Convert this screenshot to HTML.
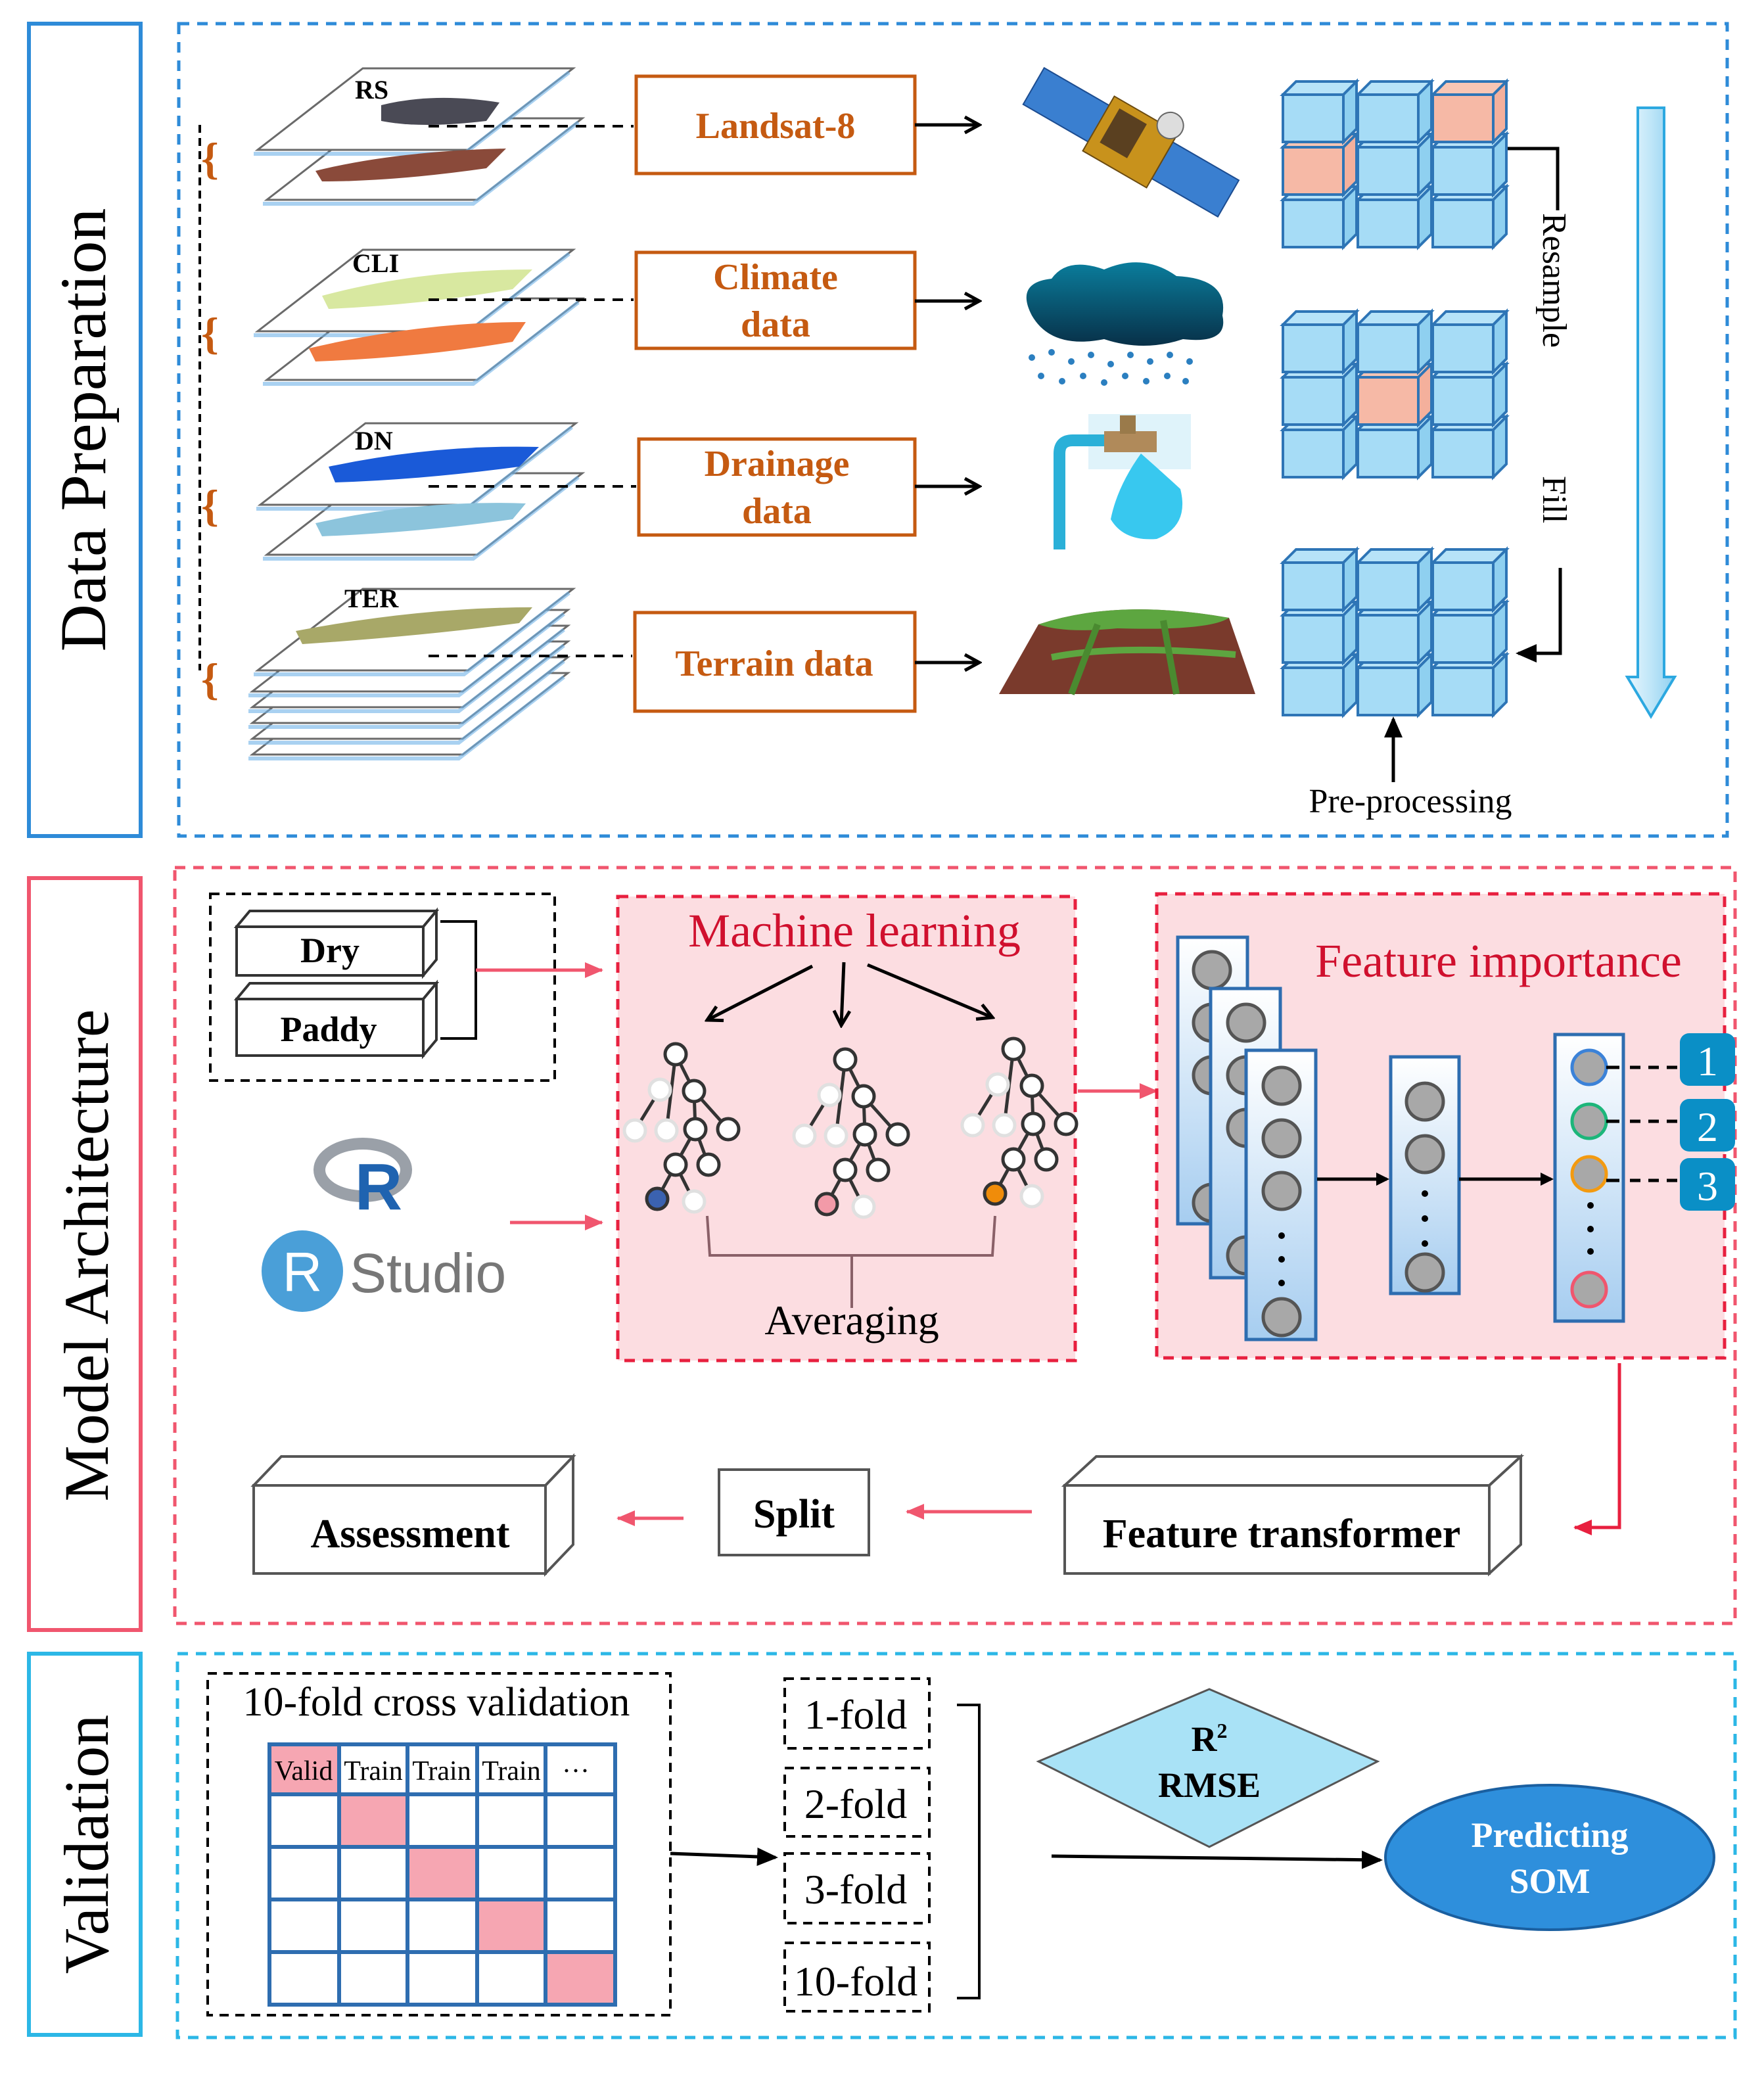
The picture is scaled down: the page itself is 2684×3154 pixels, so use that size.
<!DOCTYPE html>
<html><head><meta charset="utf-8"><style>
html,body{margin:0;padding:0;background:#fff;}
svg{display:block;}
text{font-family:"Liberation Serif",serif;}
</style></head><body>
<svg width="2684" height="3154" viewBox="0 0 1342 1577" xmlns="http://www.w3.org/2000/svg">
<defs>
<marker id="ak" markerWidth="10" markerHeight="10" refX="8" refY="5" orient="auto" markerUnits="userSpaceOnUse"><path d="M0,0 L10,5 L0,10 Z" fill="#000"/></marker>
<marker id="ao" markerWidth="14" markerHeight="14" refX="12" refY="7" orient="auto" markerUnits="userSpaceOnUse"><path d="M1,1 L12,7 L1,13" fill="none" stroke="#000" stroke-width="2.5"/></marker>
<marker id="ap" markerWidth="14" markerHeight="12" refX="13" refY="6" orient="auto" markerUnits="userSpaceOnUse"><path d="M0,0 L14,6 L0,12 Z" fill="#f0566e"/></marker>
<marker id="ar" markerWidth="14" markerHeight="12" refX="13" refY="6" orient="auto" markerUnits="userSpaceOnUse"><path d="M0,0 L14,6 L0,12 Z" fill="#e8203f"/></marker>
<marker id="ab" markerWidth="16" markerHeight="14" refX="14" refY="7" orient="auto" markerUnits="userSpaceOnUse"><path d="M0,0 L16,7 L0,14 Z" fill="#000"/></marker>
<linearGradient id="colg" x1="0" y1="0" x2="0" y2="1"><stop offset="0" stop-color="#ffffff"/><stop offset="1" stop-color="#a6cdf0"/></linearGradient>
<linearGradient id="bigarr" x1="0" y1="0" x2="1" y2="0"><stop offset="0" stop-color="#e8f6fd"/><stop offset="0.5" stop-color="#bfe6f8"/><stop offset="1" stop-color="#8fd0f0"/></linearGradient>
<linearGradient id="cloudg" x1="0" y1="0" x2="0" y2="1"><stop offset="0" stop-color="#0a7d9c"/><stop offset="1" stop-color="#083048"/></linearGradient>
<g id="layer"><path d="M80,0 L240,0 L160,62 L0,62 Z" fill="#fff" stroke="#6a6a6a" stroke-width="1.5"/><path d="M0,62 L160,62 L240,0" fill="none" stroke="#6fb3e8" stroke-width="3" opacity="0.6" transform="translate(-3,3)"/></g>
<g id="cube"><path d="M0,10 L10,0 L56,0 L46,10 Z" fill="#b7e3f8" stroke="#2e75b6" stroke-width="2"/><path d="M46,10 L56,0 L56,36 L46,46 Z" fill="#8fd0f0" stroke="#2e75b6" stroke-width="2"/><rect x="0" y="10" width="46" height="36" fill="#a6dcf6" stroke="#2e75b6" stroke-width="2"/></g>
<g id="cubep"><path d="M0,10 L10,0 L56,0 L46,10 Z" fill="#f9c6b4" stroke="#2e75b6" stroke-width="2"/><path d="M46,10 L56,0 L56,36 L46,46 Z" fill="#f4b09c" stroke="#2e75b6" stroke-width="2"/><rect x="0" y="10" width="46" height="36" fill="#f6b9a6" stroke="#2e75b6" stroke-width="2"/></g>
<g id="tree" stroke="#333" stroke-width="2.5" fill="#fff">
<line x1="0" y1="0" x2="14" y2="28"/><line x1="0" y1="0" x2="-7" y2="58"/><line x1="-12" y1="27" x2="-31" y2="58"/>
<line x1="14" y1="28" x2="15" y2="57"/><line x1="14" y1="28" x2="40" y2="57"/><line x1="15" y1="57" x2="0" y2="84"/><line x1="15" y1="57" x2="25" y2="84"/>
<line x1="0" y1="84" x2="-14" y2="110"/><line x1="0" y1="84" x2="14" y2="112"/>
<circle cx="0" cy="0" r="8"/><circle cx="-12" cy="27" r="8" stroke="#e0e0e0"/><circle cx="14" cy="28" r="8"/>
<circle cx="-31" cy="58" r="8" stroke="#e0e0e0"/><circle cx="-7" cy="58" r="8" stroke="#e0e0e0"/><circle cx="15" cy="57" r="8"/><circle cx="40" cy="57" r="8"/>
<circle cx="0" cy="84" r="8"/><circle cx="25" cy="84" r="8"/><circle cx="14" cy="112" r="8" stroke="#e0e0e0"/>
</g>
</defs>

<!-- Left labels -->
<rect x="22" y="18" width="85" height="618" fill="none" stroke="#2e8bd8" stroke-width="3"/>
<text transform="translate(80,327) rotate(-90)" text-anchor="middle" font-size="50">Data Preparation</text>
<rect x="22" y="668" width="85" height="572" fill="none" stroke="#f0566e" stroke-width="3"/>
<text transform="translate(82,955) rotate(-90)" text-anchor="middle" font-size="48">Model Architecture</text>
<rect x="22" y="1258" width="85" height="290" fill="none" stroke="#2cb7e6" stroke-width="3"/>
<text transform="translate(82,1403) rotate(-90)" text-anchor="middle" font-size="48">Validation</text>

<!-- Section dashed boxes -->
<rect x="136" y="18" width="1178" height="618" fill="none" stroke="#2e8bd8" stroke-width="2.5" stroke-dasharray="8,6"/>
<rect x="133" y="660" width="1187" height="575" fill="none" stroke="#f0566e" stroke-width="2.5" stroke-dasharray="8,6"/>
<rect x="135" y="1258" width="1185" height="292" fill="none" stroke="#2cb7e6" stroke-width="2.5" stroke-dasharray="8,6"/>

<!-- Data preparation: left bracket -->
<line x1="152" y1="95" x2="152" y2="510" stroke="#000" stroke-width="2" stroke-dasharray="6,4"/>
<g fill="#c55a11" font-size="34" font-weight="bold"><text x="153" y="132">{</text><text x="153" y="265">{</text><text x="153" y="396">{</text><text x="153" y="528">{</text></g>

<!-- Layers -->
<use href="#layer" transform="translate(203,90)"/>
<use href="#layer" transform="translate(196,52)"/>
<path d="M290,80 Q330,70 380,78 L370,92 Q320,98 290,92 Z" fill="#4a4a55"/>
<path d="M240,130 Q300,115 385,113 L370,128 Q300,138 245,138 Z" fill="#8a4a3a"/>
<text x="270" y="75" font-size="20" font-weight="bold">RS</text>
<use href="#layer" transform="translate(203,227)"/>
<use href="#layer" transform="translate(196,190)"/>
<path d="M245,225 Q320,205 405,205 L390,220 Q320,232 250,235 Z" fill="#d8e8a0"/>
<path d="M235,265 Q320,245 400,245 L390,260 Q320,272 240,275 Z" fill="#f07a40"/>
<text x="268" y="207" font-size="20" font-weight="bold">CLI</text>
<use href="#layer" transform="translate(203,360)"/>
<use href="#layer" transform="translate(198,322)"/>
<path d="M250,355 Q330,338 410,340 L395,355 Q320,365 255,367 Z" fill="#1a5ad8"/>
<path d="M240,398 Q320,380 400,383 L390,395 Q320,405 245,408 Z" fill="#8cc4dc"/>
<text x="270" y="342" font-size="20" font-weight="bold">DN</text>
<use href="#layer" transform="translate(192,512)"/>
<use href="#layer" transform="translate(192,500)"/>
<use href="#layer" transform="translate(192,488)"/>
<use href="#layer" transform="translate(192,476)"/>
<use href="#layer" transform="translate(192,464)"/>
<use href="#layer" transform="translate(196,448)"/>
<path d="M225,480 Q320,462 405,462 L395,474 Q320,484 230,490 Z" fill="#a8a868"/>
<text x="262" y="462" font-size="20" font-weight="bold">TER</text>

<!-- dashed connectors -->
<g stroke="#000" stroke-width="2" stroke-dasharray="8,6">
<line x1="326" y1="96" x2="482" y2="96"/><line x1="326" y1="228" x2="482" y2="228"/>
<line x1="326" y1="370" x2="484" y2="370"/><line x1="326" y1="499" x2="481" y2="499"/>
</g>

<!-- orange boxes -->
<g fill="#fff" stroke="#c55a11" stroke-width="2.5">
<rect x="484" y="58" width="212" height="74"/><rect x="484" y="192" width="212" height="73"/>
<rect x="486" y="334" width="210" height="73"/><rect x="483" y="466" width="213" height="75"/>
</g>
<g fill="#c55a11" font-size="28" font-weight="bold" text-anchor="middle">
<text x="590" y="105">Landsat-8</text>
<text x="590" y="220">Climate</text><text x="590" y="256">data</text>
<text x="591" y="362">Drainage</text><text x="591" y="398">data</text>
<text x="589" y="514">Terrain data</text>
</g>
<g stroke="#000" stroke-width="2.5" marker-end="url(#ao)">
<line x1="696" y1="95" x2="745" y2="95"/><line x1="696" y1="229" x2="745" y2="229"/>
<line x1="696" y1="370" x2="745" y2="370"/><line x1="696" y1="504" x2="745" y2="504"/>
</g>

<!-- satellite -->
<g transform="translate(860,108) rotate(30)">
<rect x="-85" y="-16" width="58" height="32" fill="#3a7fd0" stroke="#1c4c90"/>
<rect x="28" y="-16" width="58" height="32" fill="#3a7fd0" stroke="#1c4c90"/>
<rect x="-28" y="-24" width="56" height="48" fill="#c8921c" stroke="#6a4a10"/>
<rect x="-20" y="-18" width="24" height="30" fill="#5a4020"/>
<circle cx="20" cy="-26" r="10" fill="#ddd" stroke="#666"/>
</g>
<!-- cloud -->
<path d="M785,240 Q772,215 800,212 Q812,195 840,205 Q870,192 895,210 Q935,212 930,240 Q935,262 900,258 Q870,268 840,258 Q800,266 785,240 Z" fill="url(#cloudg)"/>
<g fill="#2b7fc0">
<circle cx="785" cy="272" r="2.5"/><circle cx="800" cy="268" r="2.5"/><circle cx="815" cy="275" r="2.5"/><circle cx="830" cy="270" r="2.5"/><circle cx="845" cy="277" r="2.5"/><circle cx="860" cy="270" r="2.5"/><circle cx="875" cy="275" r="2.5"/><circle cx="890" cy="270" r="2.5"/><circle cx="905" cy="275" r="2.5"/>
<circle cx="792" cy="286" r="2.5"/><circle cx="808" cy="290" r="2.5"/><circle cx="824" cy="286" r="2.5"/><circle cx="840" cy="291" r="2.5"/><circle cx="856" cy="286" r="2.5"/><circle cx="872" cy="290" r="2.5"/><circle cx="888" cy="286" r="2.5"/><circle cx="902" cy="290" r="2.5"/>
</g>
<!-- tap -->
<rect x="828" y="315" width="78" height="42" fill="#dff3fa"/>
<path d="M806,418 L806,345 Q806,335 816,335 L845,335" fill="none" stroke="#2ab0d8" stroke-width="9"/>
<rect x="840" y="328" width="40" height="16" fill="#b08a5a"/><rect x="852" y="316" width="12" height="14" fill="#9a7a4a"/>
<path d="M868,345 Q850,370 845,395 Q855,412 880,410 Q905,400 898,372 Q885,360 868,345 Z" fill="#38c8ef"/>
<!-- terrain -->
<path d="M760,528 L790,475 Q850,455 935,470 L955,528 Z" fill="#7a3a2c"/>
<path d="M790,475 Q850,455 935,470 Q920,480 850,478 Q810,482 790,475 Z" fill="#5da640"/>
<path d="M800,500 Q850,490 940,498" stroke="#5da640" stroke-width="5" fill="none"/>
<path d="M835,475 L815,528 M885,472 L895,528" stroke="#4a8a30" stroke-width="5" fill="none"/>

<!-- cube grids -->
<g>
<use href="#cube" x="1090" y="142"/><use href="#cube" x="1033" y="142"/><use href="#cube" x="976" y="142"/>
<use href="#cube" x="1090" y="102"/><use href="#cube" x="1033" y="102"/><use href="#cubep" x="976" y="102"/>
<use href="#cubep" x="1090" y="62"/><use href="#cube" x="1033" y="62"/><use href="#cube" x="976" y="62"/>

<use href="#cube" x="1090" y="317"/><use href="#cube" x="1033" y="317"/><use href="#cube" x="976" y="317"/>
<use href="#cube" x="1090" y="277"/><use href="#cubep" x="1033" y="277"/><use href="#cube" x="976" y="277"/>
<use href="#cube" x="1090" y="237"/><use href="#cube" x="1033" y="237"/><use href="#cube" x="976" y="237"/>

<use href="#cube" x="1090" y="498"/><use href="#cube" x="1033" y="498"/><use href="#cube" x="976" y="498"/>
<use href="#cube" x="1090" y="458"/><use href="#cube" x="1033" y="458"/><use href="#cube" x="976" y="458"/>
<use href="#cube" x="1090" y="418"/><use href="#cube" x="1033" y="418"/><use href="#cube" x="976" y="418"/>
</g>
<path d="M1147,113 L1185,113 L1185,160" fill="none" stroke="#000" stroke-width="2.5"/>
<text transform="translate(1174,162) rotate(90)" font-size="26">Resample</text>
<text transform="translate(1174,362) rotate(90)" font-size="26">Fill</text>
<path d="M1187,432 L1187,497 L1155,497" fill="none" stroke="#000" stroke-width="2.5" marker-end="url(#ab)"/>
<line x1="1060" y1="595" x2="1060" y2="547" stroke="#000" stroke-width="2.5" marker-end="url(#ab)"/>
<text x="1073" y="618" font-size="26" text-anchor="middle">Pre-processing</text>
<!-- big down arrow -->
<path d="M1246,82 L1266,82 L1266,515 L1274,515 L1256,545 L1238,515 L1246,515 Z" fill="url(#bigarr)" stroke="#2ca8e0" stroke-width="2"/>

<!-- Model architecture -->
<rect x="160" y="680" width="262" height="142" fill="none" stroke="#000" stroke-width="2" stroke-dasharray="7,5"/>
<g fill="#fff" stroke="#333" stroke-width="2">
<path d="M180,705 L190,693 L332,693 L322,705 Z"/><path d="M322,705 L332,693 L332,730 L322,742 Z"/><rect x="180" y="705" width="142" height="37"/>
<path d="M180,760 L190,748 L332,748 L322,760 Z"/><path d="M322,760 L332,748 L332,791 L322,803 Z"/><rect x="180" y="760" width="142" height="43"/>
</g>
<text x="251" y="732" font-size="27" font-weight="bold" text-anchor="middle">Dry</text>
<text x="250" y="792" font-size="27" font-weight="bold" text-anchor="middle">Paddy</text>
<path d="M335,701 L362,701 L362,790 L335,790" fill="none" stroke="#000" stroke-width="2"/>
<line x1="362" y1="738" x2="458" y2="738" stroke="#f0566e" stroke-width="2.5" marker-end="url(#ap)"/>
<!-- R logo -->
<ellipse cx="276" cy="890" rx="33" ry="20" fill="none" stroke="#9aa0a8" stroke-width="9"/>
<text x="288" y="920" font-family="Liberation Sans,sans-serif" font-size="50" font-weight="bold" fill="#1f63b0" text-anchor="middle" style="font-family:'Liberation Sans',sans-serif">R</text>
<circle cx="230" cy="967" r="31" fill="#4a9fd8"/>
<text x="230" y="982" font-size="42" fill="#fff" text-anchor="middle" style="font-family:'Liberation Sans',sans-serif">R</text>
<text x="266" y="983" font-size="42" fill="#777" style="font-family:'Liberation Sans',sans-serif">Studio</text>
<line x1="388" y1="930" x2="458" y2="930" stroke="#f0566e" stroke-width="2.5" marker-end="url(#ap)"/>

<!-- ML box -->
<rect x="470" y="682" width="348" height="353" fill="#fcdde1" stroke="#e8203f" stroke-width="2.5" stroke-dasharray="8,6"/>
<text x="650" y="720" font-size="36" fill="#d0102e" text-anchor="middle">Machine learning</text>
<g stroke="#000" stroke-width="2.5" marker-end="url(#ao)">
<line x1="618" y1="735" x2="538" y2="776"/><line x1="642" y1="732" x2="640" y2="780"/><line x1="660" y1="734" x2="755" y2="774"/>
</g>
<use href="#tree" transform="translate(514,802)"/>
<use href="#tree" transform="translate(643,806)"/>
<use href="#tree" transform="translate(771,798)"/>
<circle cx="500" cy="912" r="8" fill="#3b62b0" stroke="#333" stroke-width="2.5"/>
<circle cx="629" cy="916" r="8" fill="#f29aa8" stroke="#333" stroke-width="2.5"/>
<circle cx="757" cy="908" r="8" fill="#f08c0a" stroke="#333" stroke-width="2.5"/>
<path d="M538,925 L540,955 L755,955 L757,925 M648,955 L648,995" fill="none" stroke="#8a6068" stroke-width="2"/>
<text x="648" y="1015" font-size="32" text-anchor="middle">Averaging</text>
<line x1="820" y1="830" x2="880" y2="830" stroke="#f0566e" stroke-width="2.5" marker-end="url(#ap)"/>

<!-- Feature importance -->
<rect x="880" y="680" width="432" height="353" fill="#fcdde1" stroke="#e8203f" stroke-width="2.5" stroke-dasharray="8,6"/>
<text x="1140" y="743" font-size="36" fill="#d0102e" text-anchor="middle">Feature importance</text>
<g stroke="#2e6db0" stroke-width="2.5" fill="url(#colg)">
<rect x="896" y="713" width="53" height="218"/>
</g>
<g fill="#a8a8a8" stroke="#555" stroke-width="2.5"><circle cx="922" cy="738" r="14"/><circle cx="922" cy="778" r="14"/><circle cx="922" cy="818" r="14"/><circle cx="922" cy="915" r="14"/></g>
<rect x="921" y="752" width="53" height="220" fill="url(#colg)" stroke="#2e6db0" stroke-width="2.5"/>
<g fill="#a8a8a8" stroke="#555" stroke-width="2.5"><circle cx="948" cy="778" r="14"/><circle cx="948" cy="818" r="14"/><circle cx="948" cy="858" r="14"/><circle cx="948" cy="955" r="14"/></g>
<rect x="948" y="799" width="53" height="220" fill="url(#colg)" stroke="#2e6db0" stroke-width="2.5"/>
<g fill="#a8a8a8" stroke="#555" stroke-width="2.5"><circle cx="975" cy="826" r="14"/><circle cx="975" cy="866" r="14"/><circle cx="975" cy="906" r="14"/><circle cx="975" cy="1002" r="14"/></g>
<g fill="#000"><circle cx="975" cy="940" r="2.5"/><circle cx="975" cy="958" r="2.5"/><circle cx="975" cy="976" r="2.5"/></g>
<rect x="1058" y="804" width="52" height="180" fill="url(#colg)" stroke="#2e6db0" stroke-width="2.5"/>
<g fill="#a8a8a8" stroke="#555" stroke-width="2.5"><circle cx="1084" cy="838" r="14"/><circle cx="1084" cy="878" r="14"/><circle cx="1084" cy="968" r="14"/></g>
<g fill="#000"><circle cx="1084" cy="908" r="2.5"/><circle cx="1084" cy="927" r="2.5"/><circle cx="1084" cy="946" r="2.5"/></g>
<rect x="1183" y="787" width="52" height="218" fill="url(#colg)" stroke="#2e6db0" stroke-width="2.5"/>
<circle cx="1209" cy="812" r="13" fill="#a8a8a8" stroke="#3b82d8" stroke-width="2.5"/>
<circle cx="1209" cy="853" r="13" fill="#a8a8a8" stroke="#1cb67a" stroke-width="2.5"/>
<circle cx="1209" cy="893" r="13" fill="#a8a8a8" stroke="#f39a10" stroke-width="2.5"/>
<circle cx="1209" cy="981" r="13" fill="#a8a8a8" stroke="#f0566e" stroke-width="2.5"/>
<g fill="#000"><circle cx="1210" cy="917" r="2.5"/><circle cx="1210" cy="935" r="2.5"/><circle cx="1210" cy="952" r="2.5"/></g>
<g stroke="#000" stroke-width="2.5"><line x1="1002" y1="897" x2="1055" y2="897" marker-end="url(#ak)"/><line x1="1110" y1="897" x2="1180" y2="897" marker-end="url(#ak)"/></g>
<g stroke="#000" stroke-width="2.5"><line x1="1222" y1="812" x2="1232" y2="812"/><line x1="1222" y1="853" x2="1232" y2="853"/><line x1="1222" y1="898" x2="1232" y2="898"/></g>
<g stroke="#000" stroke-width="2.5" stroke-dasharray="8,6"><line x1="1240" y1="812" x2="1280" y2="812"/><line x1="1240" y1="853" x2="1280" y2="853"/><line x1="1240" y1="898" x2="1280" y2="898"/></g>
<g fill="#0a8fc6"><rect x="1278" y="786" width="42" height="40" rx="7"/><rect x="1278" y="836" width="42" height="40" rx="7"/><rect x="1278" y="881" width="42" height="40" rx="7"/></g>
<g fill="#fff" font-size="32" text-anchor="middle" style="font-family:'Liberation Sans',sans-serif"><text x="1299" y="818">1</text><text x="1299" y="868">2</text><text x="1299" y="913">3</text></g>

<!-- bottom row of model -->
<path d="M1232,1037 L1232,1162 L1198,1162" fill="none" stroke="#e8203f" stroke-width="2.5" marker-end="url(#ar)"/>
<g fill="#fff" stroke="#555" stroke-width="2">
<path d="M810,1130 L834,1108 L1157,1108 L1133,1130 Z"/><path d="M1133,1130 L1157,1108 L1157,1175 L1133,1197 Z"/><rect x="810" y="1130" width="323" height="67"/>
<path d="M193,1130 L214,1108 L436,1108 L415,1130 Z"/><path d="M415,1130 L436,1108 L436,1175 L415,1197 Z"/><rect x="193" y="1130" width="222" height="67"/>
</g>
<rect x="547" y="1118" width="114" height="65" fill="#fff" stroke="#555" stroke-width="2"/>
<g font-size="31" font-weight="bold" text-anchor="middle">
<text x="975" y="1177">Feature transformer</text>
<text x="312" y="1177">Assessment</text>
<text x="604" y="1162">Split</text>
</g>
<line x1="785" y1="1150" x2="690" y2="1150" stroke="#f0566e" stroke-width="2.5" marker-end="url(#ap)"/>
<line x1="520" y1="1155" x2="470" y2="1155" stroke="#f0566e" stroke-width="2.5" marker-end="url(#ap)"/>

<!-- Validation -->
<rect x="158" y="1273" width="352" height="260" fill="none" stroke="#000" stroke-width="2" stroke-dasharray="7,5"/>
<text x="332" y="1305" font-size="31" text-anchor="middle">10-fold cross validation</text>
<g fill="#f6a6b2">
<rect x="205" y="1327" width="53" height="38"/><rect x="258" y="1365" width="52" height="40"/><rect x="310" y="1405" width="53" height="40"/><rect x="363" y="1445" width="52" height="40"/><rect x="415" y="1485" width="53" height="40"/>
</g>
<g stroke="#2e6db0" stroke-width="3" fill="none">
<rect x="205" y="1327" width="263" height="198"/>
<line x1="258" y1="1327" x2="258" y2="1525"/><line x1="310" y1="1327" x2="310" y2="1525"/><line x1="363" y1="1327" x2="363" y2="1525"/><line x1="415" y1="1327" x2="415" y2="1525"/>
<line x1="205" y1="1365" x2="468" y2="1365"/><line x1="205" y1="1405" x2="468" y2="1405"/><line x1="205" y1="1445" x2="468" y2="1445"/><line x1="205" y1="1485" x2="468" y2="1485"/>
</g>
<g font-size="21" text-anchor="middle"><text x="231" y="1354">Valid</text><text x="284" y="1354">Train</text><text x="336" y="1354">Train</text><text x="389" y="1354">Train</text><text x="438" y="1354">···</text></g>
<line x1="510" y1="1410" x2="590" y2="1413" stroke="#000" stroke-width="2.5" marker-end="url(#ab)"/>
<g fill="none" stroke="#000" stroke-width="2" stroke-dasharray="7,5">
<rect x="597" y="1277" width="110" height="53"/><rect x="597" y="1345" width="110" height="52"/><rect x="597" y="1410" width="110" height="53"/><rect x="597" y="1478" width="110" height="52"/>
</g>
<g font-size="32" text-anchor="middle"><text x="651" y="1315">1-fold</text><text x="651" y="1383">2-fold</text><text x="651" y="1448">3-fold</text><text x="651" y="1518">10-fold</text></g>
<path d="M728,1297 L745,1297 L745,1520 L728,1520" fill="none" stroke="#000" stroke-width="2"/>
<path d="M920,1285 L1048,1340 L920,1405 L790,1340 Z" fill="#a9e2f6" stroke="#555" stroke-width="1.5"/>
<text x="920" y="1332" font-size="27" font-weight="bold" text-anchor="middle">R<tspan font-size="16" dy="-10">2</tspan></text>
<text x="920" y="1367" font-size="27" font-weight="bold" text-anchor="middle">RMSE</text>
<line x1="800" y1="1412" x2="1050" y2="1415" stroke="#000" stroke-width="2.5" marker-end="url(#ab)"/>
<ellipse cx="1179" cy="1413" rx="125" ry="55" fill="#2e8fdc" stroke="#1a5fa0" stroke-width="2"/>
<text x="1179" y="1405" font-size="27" font-weight="bold" fill="#fff" text-anchor="middle">Predicting</text>
<text x="1179" y="1440" font-size="27" font-weight="bold" fill="#fff" text-anchor="middle">SOM</text>
</svg>
</body></html>
